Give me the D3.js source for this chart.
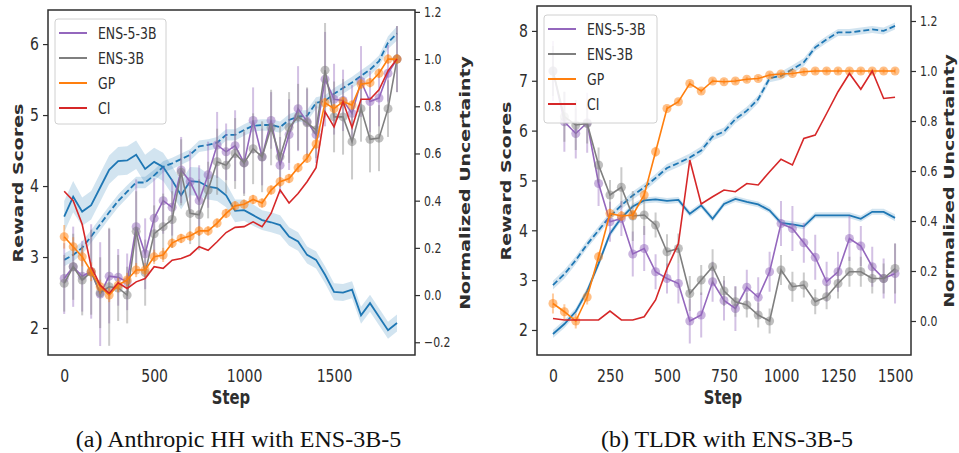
<!DOCTYPE html>
<html>
<head>
<meta charset="utf-8">
<script src="https://cdn.jsdelivr.net/npm/d3@7"></script>
<style>
  body { margin: 0; background: #fff; }
  svg { display: block; }
</style>
</head>
<body>
<svg width="959" height="453"></svg>
<script>
// ---- (a) Anthropic HH ----
const hhSteps = [0, 50, 100, 150, 200, 250, 300, 350, 400, 450, 500, 550, 600, 650, 700, 750, 800, 850, 900, 950,
  1000, 1050, 1100, 1150, 1200, 1250, 1300, 1350, 1400, 1450, 1500, 1550, 1600, 1650, 1700, 1750, 1800, 1850]
const hhGold = [3.57, 3.85, 3.64, 3.73, 3.98, 4.23, 4.35, 4.36, 4.44, 4.24, 4.34, 4.27, 4.08, 3.87, 4.07, 4.06, 3.99, 3.97, 3.87, 3.65,
  3.66, 3.59, 3.52, 3.49, 3.45, 3.29, 3.22, 3.03, 2.96, 2.75, 2.51, 2.50, 2.54, 2.18, 2.35, 2.16, 1.97, 2.07]
const hhGoldSd = [0.22, 0.22, 0.2, 0.2, 0.2, 0.2, 0.2, 0.2, 0.2, 0.2, 0.2, 0.2, 0.2, 0.2, 0.2, 0.2, 0.18, 0.18, 0.17, 0.16,
  0.15, 0.15, 0.14, 0.14, 0.14, 0.13, 0.13, 0.12, 0.12, 0.12, 0.12, 0.12, 0.12, 0.12, 0.12, 0.12, 0.12, 0.12]
const hhProxy = [2.96, 3.03, 3.13, 3.29, 3.46, 3.63, 3.79, 3.92, 4.05, 4.05, 4.15, 4.27, 4.32, 4.38, 4.44, 4.56, 4.58, 4.61, 4.72, 4.72,
  4.79, 4.85, 4.86, 4.86, 4.83, 4.93, 4.98, 4.99, 5.17, 5.2, 5.3, 5.38, 5.46, 5.55, 5.64, 5.76, 6.02, 6.15]
const hhProxySd = [0.09, 0.09, 0.09, 0.09, 0.09, 0.09, 0.09, 0.09, 0.08, 0.08, 0.08, 0.08, 0.08, 0.08, 0.08, 0.08, 0.08, 0.08, 0.08, 0.08,
  0.08, 0.08, 0.08, 0.08, 0.08, 0.08, 0.08, 0.08, 0.08, 0.08, 0.08, 0.08, 0.08, 0.08, 0.08, 0.08, 0.09, 0.1]
const hhEns5 = [0.07, 0.12, 0.08, 0.10, 0.004, 0.08, 0.075, 0.056, 0.29, 0.175, 0.325, 0.40, 0.372, 0.53, 0.48, 0.40, 0.51, 0.636, 0.607, 0.633,
  0.56, 0.74, 0.585, 0.74, 0.55, 0.68, 0.79, 0.735, 0.68, 0.915, 0.83, 0.825, 0.77, 0.905, 0.82, 0.835, 0.94, 1.0]
const hhEns5Err = [0.15, 0.17, 0.15, 0.2, 0.22, 0.2, 0.12, 0.12, 0.2, 0.15, 0.17, 0.14, 0.12, 0.14, 0.13, 0.15, 0.14, 0.14, 0.12, 0.15,
  0.13, 0.14, 0.12, 0.12, 0.12, 0.15, 0.18, 0.14, 0.12, 0.2, 0.15, 0.13, 0.12, 0.15, 0.13, 0.12, 0.12, 0.14]
const hhEns = [0.05, 0.12, 0.064, 0.097, 0.01, 0.035, 0.03, 0.0, 0.27, 0.095, 0.26, 0.29, 0.32, 0.52, 0.346, 0.34, 0.445, 0.565, 0.55, 0.60,
  0.56, 0.62, 0.586, 0.71, 0.586, 0.71, 0.755, 0.73, 0.70, 0.953, 0.755, 0.755, 0.65, 0.79, 0.66, 0.665, 0.79, 1.0]
const hhEnsErr = [0.12, 0.14, 0.15, 0.18, 0.15, 0.25, 0.14, 0.12, 0.17, 0.14, 0.12, 0.14, 0.12, 0.14, 0.13, 0.15, 0.12, 0.14, 0.12, 0.15,
  0.14, 0.15, 0.15, 0.16, 0.13, 0.15, 0.14, 0.15, 0.12, 0.2, 0.15, 0.16, 0.16, 0.14, 0.14, 0.14, 0.12, 0.14]
const hhGp = [0.247, 0.205, 0.162, 0.099, 0.035, 0.0, 0.042, 0.064, 0.106, 0.106, 0.162, 0.17, 0.22, 0.24, 0.25, 0.272, 0.272, 0.305, 0.346, 0.378,
  0.385, 0.405, 0.39, 0.445, 0.48, 0.494, 0.54, 0.58, 0.64, 0.815, 0.79, 0.82, 0.805, 0.894, 0.90, 0.94, 1.0, 1.0]
const hhGpErr = [0.05, 0.04, 0.04, 0.04, 0.03, 0.03, 0.03, 0.03, 0.03, 0.03, 0.03, 0.03, 0.02, 0.02, 0.02, 0.02, 0.02, 0.02, 0.02, 0.02,
  0.02, 0.02, 0.02, 0.02, 0.02, 0.02, 0.02, 0.02, 0.02, 0.02, 0.02, 0.02, 0.02, 0.02, 0.02, 0.02, 0.02, 0.02]
const hhCi = [0.44, 0.40, 0.30, 0.12, 0.042, 0.007, 0.052, 0.028, 0.056, 0.07, 0.12, 0.113, 0.148, 0.155, 0.17, 0.205, 0.19, 0.226, 0.265, 0.287,
  0.29, 0.31, 0.29, 0.346, 0.445, 0.39, 0.43, 0.48, 0.54, 0.777, 0.713, 0.82, 0.71, 0.83, 0.83, 0.87, 0.95, 1.0]

// ---- (b) TLDR ----
const tlSteps = [0, 50, 100, 150, 200, 250, 300, 350, 400, 450, 500, 550, 600, 650, 700, 750,
  800, 850, 900, 950, 1000, 1050, 1100, 1150, 1200, 1250, 1300, 1350, 1400, 1450, 1500]
const tlGold = [1.92, 2.12, 2.37, 2.78, 3.33, 3.93, 4.25, 4.48, 4.6, 4.62, 4.59, 4.61, 4.33, 4.5, 4.23, 4.53,
  4.63, 4.57, 4.52, 4.4, 4.15, 4.12, 4.08, 4.3, 4.3, 4.3, 4.3, 4.23, 4.37, 4.37, 4.25]
const tlGoldSd = [0.08, 0.08, 0.07, 0.07, 0.07, 0.07, 0.06, 0.06, 0.06, 0.06, 0.06, 0.06, 0.06, 0.06, 0.06, 0.06,
  0.06, 0.06, 0.06, 0.06, 0.06, 0.06, 0.06, 0.06, 0.06, 0.06, 0.06, 0.06, 0.06, 0.06, 0.07]
const tlProxy = [2.9, 3.12, 3.4, 3.72, 4.0, 4.28, 4.5, 4.7, 4.86, 5.05, 5.25, 5.35, 5.46, 5.6, 5.88, 5.98,
  6.23, 6.4, 6.63, 7.05, 7.1, 7.23, 7.37, 7.67, 7.83, 7.97, 7.97, 8.0, 8.03, 8.0, 8.1]
const tlProxySd = [0.09, 0.09, 0.08, 0.08, 0.08, 0.08, 0.08, 0.08, 0.08, 0.08, 0.08, 0.08, 0.08, 0.08, 0.08, 0.08,
  0.08, 0.08, 0.08, 0.08, 0.08, 0.08, 0.08, 0.07, 0.07, 0.07, 0.07, 0.07, 0.07, 0.07, 0.07]
const tlEns5 = [1.0, 0.797, 0.75, 0.793, 0.55, 0.397, 0.41, 0.268, 0.29, 0.197, 0.17, 0.15, 0.0, 0.024, 0.157, 0.082,
  0.05, 0.135, 0.095, 0.197, 0.39, 0.37, 0.313, 0.255, 0.157, 0.197, 0.33, 0.30, 0.217, 0.17, 0.19]
const tlEns5Err = [0.12, 0.12, 0.1, 0.12, 0.09, 0.08, 0.07, 0.09, 0.09, 0.07, 0.06, 0.08, 0.09, 0.09, 0.08, 0.08,
  0.09, 0.07, 0.08, 0.08, 0.09, 0.09, 0.08, 0.09, 0.08, 0.08, 0.09, 0.08, 0.08, 0.08, 0.12]
const tlEns = [1.0, 0.817, 0.784, 0.79, 0.624, 0.504, 0.535, 0.42, 0.424, 0.384, 0.277, 0.29, 0.11, 0.164, 0.217, 0.12,
  0.077, 0.064, 0.024, 0.0, 0.204, 0.137, 0.144, 0.077, 0.097, 0.15, 0.197, 0.197, 0.17, 0.17, 0.21]
const tlEnsErr = [0.1, 0.1, 0.1, 0.08, 0.07, 0.06, 0.08, 0.1, 0.08, 0.05, 0.07, 0.06, 0.07, 0.06, 0.07, 0.06,
  0.06, 0.05, 0.05, 0.05, 0.06, 0.06, 0.05, 0.05, 0.05, 0.06, 0.06, 0.06, 0.06, 0.06, 0.1]
const tlGp = [0.07, 0.037, 0.0, 0.096, 0.257, 0.43, 0.42, 0.424, 0.504, 0.677, 0.85, 0.877, 0.95, 0.92, 0.96, 0.957,
  0.96, 0.967, 0.97, 0.984, 0.988, 0.99, 0.997, 1.0, 1.0, 1.0, 1.0, 1.0, 1.0, 1.0, 1.0]
const tlGpErr = [0.04, 0.03, 0.03, 0.03, 0.02, 0.02, 0.02, 0.02, 0.02, 0.02, 0.01, 0.01, 0.01, 0.01, 0.01, 0.01,
  0.01, 0.01, 0.01, 0.01, 0.01, 0.01, 0.01, 0.01, 0.01, 0.01, 0.01, 0.01, 0.01, 0.01, 0.01]
const tlCi = [0.01, 0.004, 0.004, 0.004, 0.004, 0.04, 0.004, 0.004, 0.017, 0.084, 0.21, 0.31, 0.644, 0.468, 0.497, 0.524,
  0.517, 0.55, 0.544, 0.597, 0.647, 0.624, 0.73, 0.744, 0.83, 0.917, 0.99, 0.927, 1.0, 0.89, 0.895]

const legendNames = ['ENS-5-3B', 'ENS-3B', 'GP', 'CI']
const colors = { blue: '#1f77b4', purple: '#9467bd', gray: '#7f7f7f', orange: '#ff7f0e', red: '#d62728' }
const ink = '#2e2e2e'
const font = '"DejaVu Sans", sans-serif'
// the original figure was squeezed horizontally, text included
const SX = 0.78

const svg = d3.select('svg')

const label = (g, x, y, str, size, opts = {}) => g.append('text')
  .attr('transform', opts.rot
    ? `translate(${x},${y}) rotate(-90) scale(1,${SX})`
    : `translate(${x},${y}) scale(${SX},1)`)
  .attr('text-anchor', opts.anchor || 'middle')
  .attr('font-family', opts.family || font)
  .attr('font-size', size)
  .attr('font-weight', opts.bold ? 'bold' : null)
  .attr('fill', opts.fill || ink)
  .text(str)

function panel (p) {
  const g = svg.append('g')
  const x = d3.scaleLinear().domain(p.xDomain).range([p.left, p.right])
  const yL = d3.scaleLinear().domain(p.yLDomain).range([p.bottom, p.top])
  const yR = d3.scaleLinear().domain(p.yRDomain).range([p.bottom, p.top])

  g.append('clipPath').attr('id', p.id)
    .append('rect')
    .attr('x', p.left).attr('y', p.top)
    .attr('width', p.right - p.left).attr('height', p.bottom - p.top)
  const plot = g.append('g').attr('clip-path', `url(#${p.id})`)

  // reward curves on the left axis, with their shaded bands
  const band = (vals, sd) => d3.area()
    .x((d, i) => x(p.steps[i]))
    .y0((d, i) => yL(d - sd[i]))
    .y1((d, i) => yL(d + sd[i]))(vals)
  const lineL = d3.line().x((d, i) => x(p.steps[i])).y((d) => yL(d))
  plot.append('path').attr('d', band(p.gold, p.goldSd)).attr('fill', colors.blue).attr('opacity', 0.2)
  plot.append('path').attr('d', band(p.proxy, p.proxySd)).attr('fill', colors.blue).attr('opacity', 0.2)
  plot.append('path').attr('d', lineL(p.gold))
    .attr('fill', 'none').attr('stroke', colors.blue).attr('stroke-width', 1.8)
  plot.append('path').attr('d', lineL(p.proxy))
    .attr('fill', 'none').attr('stroke', colors.blue).attr('stroke-width', 1.8)
    .attr('stroke-dasharray', '6,3')

  // uncertainty curves on the right axis
  const lineR = d3.line().x((d, i) => x(p.steps[i])).y((d) => yR(d))
  p.series.forEach((s) => {
    const sg = plot.append('g')
    if (s.err) {
      sg.selectAll('line').data(s.vals).join('line')
        .attr('x1', (d, i) => x(p.steps[i])).attr('x2', (d, i) => x(p.steps[i]))
        .attr('y1', (d, i) => yR(d - s.err[i])).attr('y2', (d, i) => yR(d + s.err[i]))
        .attr('stroke', s.color).attr('stroke-width', 2).attr('opacity', 0.4)
    }
    sg.append('path').attr('d', lineR(s.vals))
      .attr('fill', 'none').attr('stroke', s.color).attr('stroke-width', 1.6)
    if (s.marker) {
      sg.selectAll('circle').data(s.vals).join('circle')
        .attr('cx', (d, i) => x(p.steps[i])).attr('cy', (d) => yR(d))
        .attr('r', 4.5).attr('fill', s.color).attr('opacity', 0.5)
    }
  })

  // axes
  const styleTicks = (ax) => ax.call((a) => a.select('.domain').remove())
    .attr('font-family', font).attr('fill', ink)
  const axL = g.append('g').attr('transform', `translate(${p.left},0)`)
    .call(d3.axisLeft(yL).tickValues(p.yLTicks).tickFormat(d3.format('d')).tickSize(5).tickPadding(4))
  styleTicks(axL).attr('font-size', 18)
  axL.selectAll('line').attr('stroke', ink).attr('stroke-width', 1.2)
  axL.selectAll('text').attr('fill', ink).attr('x', null)
    .attr('transform', `translate(-9,0) scale(${SX},1)`)

  const axR = g.append('g').attr('transform', `translate(${p.right},0)`)
    .call(d3.axisRight(yR).tickValues(p.yRTicks).tickFormat(d3.format('.1f')).tickSize(5).tickPadding(4))
  styleTicks(axR).attr('font-size', 14)
  axR.selectAll('line').attr('stroke', ink).attr('stroke-width', 1.2)
  axR.selectAll('text').attr('fill', ink).attr('x', null)
    .attr('transform', `translate(9,0) scale(${SX},1)`)

  const axB = g.append('g').attr('transform', `translate(0,${p.bottom})`)
    .call(d3.axisBottom(x).tickValues(p.xTicks).tickFormat(d3.format('d')).tickSize(0).tickPadding(14))
  styleTicks(axB).attr('font-size', 18)
  axB.selectAll('text').attr('fill', ink).attr('transform', `scale(${SX},1)`)

  g.append('rect')
    .attr('x', p.left).attr('y', p.top)
    .attr('width', p.right - p.left).attr('height', p.bottom - p.top)
    .attr('fill', 'none').attr('stroke', ink).attr('stroke-width', 1.5)

  // axis titles
  label(g, p.xLabelX, 404, 'Step', 19, { bold: true })
  label(g, p.yLLabelX, p.yLabelY, 'Reward Scores', 19, { bold: true, rot: true })
  label(g, p.yRLabelX, p.yLabelY, 'Normalized Uncertainty', 19, { bold: true, rot: true })

  // legend
  const lg = g.append('g').attr('transform', `translate(${p.legend[0]},${p.legend[1]})`)
  lg.append('rect').attr('width', p.legend[2]).attr('height', p.legend[3])
    .attr('rx', 3).attr('fill', '#fff').attr('fill-opacity', 0.85)
    .attr('stroke', '#d0d0d0').attr('stroke-width', 1)
  p.series.forEach((s, i) => {
    const yy = 14 + i * 25
    lg.append('line').attr('x1', 4).attr('x2', 32).attr('y1', yy).attr('y2', yy)
      .attr('stroke', s.color).attr('stroke-width', 2)
    label(lg, 43, yy + 6, legendNames[i], 16, { anchor: 'start' })
  })

  // caption under the panel
  svg.append('text')
    .attr('x', p.captionX).attr('y', 447)
    .attr('text-anchor', 'middle')
    .attr('font-family', '"Liberation Serif", "Times New Roman", serif')
    .attr('font-size', 24).attr('fill', '#111')
    .text(p.caption)
}

panel({
  id: 'clipA',
  left: 48, right: 415, top: 10, bottom: 355,
  xDomain: [-90, 1950], yLDomain: [1.62, 6.48], yRDomain: [-0.254, 1.208],
  steps: hhSteps,
  xTicks: [0, 500, 1000, 1500], yLTicks: [2, 3, 4, 5, 6], yRTicks: [-0.2, 0, 0.2, 0.4, 0.6, 0.8, 1.0, 1.2],
  gold: hhGold, goldSd: hhGoldSd, proxy: hhProxy, proxySd: hhProxySd,
  series: [
    { vals: hhEns5, err: hhEns5Err, color: colors.purple, marker: true },
    { vals: hhEns, err: hhEnsErr, color: colors.gray, marker: true },
    { vals: hhGp, err: hhGpErr, color: colors.orange, marker: true },
    { vals: hhCi, color: colors.red }
  ],
  legend: [55, 19, 111, 105],
  xLabelX: 231, yLLabelX: 23, yRLabelX: 470, yLabelY: 183,
  captionX: 238.5, caption: '(a) Anthropic HH with ENS-3B-5'
})

panel({
  id: 'clipB',
  left: 537, right: 911, top: 6, bottom: 355,
  xDomain: [-70, 1570], yLDomain: [1.498, 8.5], yRDomain: [-0.136, 1.26],
  steps: tlSteps,
  xTicks: [0, 250, 500, 750, 1000, 1250, 1500], yLTicks: [2, 3, 4, 5, 6, 7, 8], yRTicks: [0, 0.2, 0.4, 0.6, 0.8, 1.0, 1.2],
  gold: tlGold, goldSd: tlGoldSd, proxy: tlProxy, proxySd: tlProxySd,
  series: [
    { vals: tlEns5, err: tlEns5Err, color: colors.purple, marker: true },
    { vals: tlEns, err: tlEnsErr, color: colors.gray, marker: true },
    { vals: tlGp, err: tlGpErr, color: colors.orange, marker: true },
    { vals: tlCi, color: colors.red }
  ],
  legend: [544, 15, 113, 108],
  xLabelX: 723, yLLabelX: 511, yRLabelX: 954, yLabelY: 181,
  captionX: 727, caption: '(b) TLDR with ENS-3B-5'
})
</script>
</body>
</html>
